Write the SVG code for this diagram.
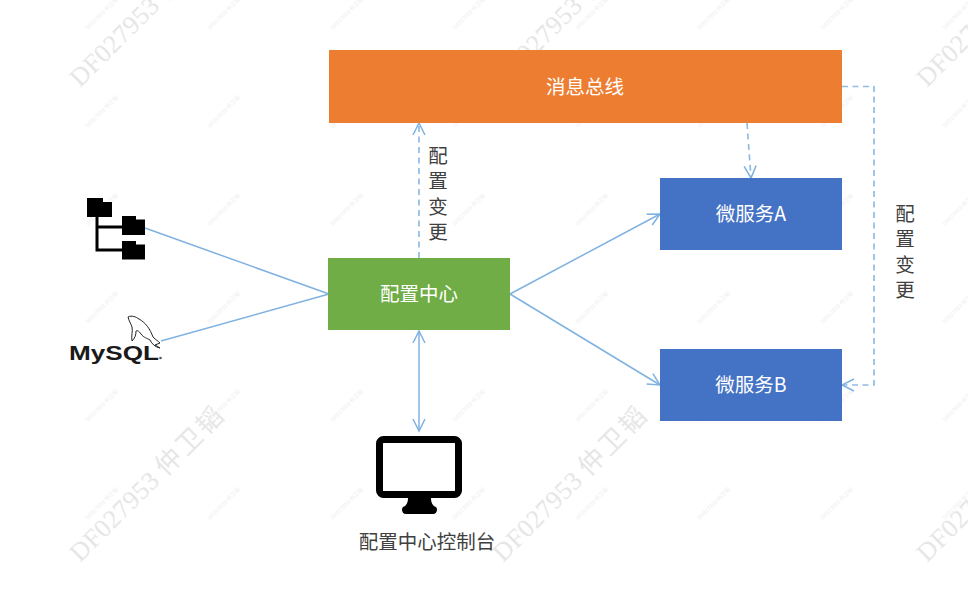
<svg xmlns="http://www.w3.org/2000/svg" width="968" height="594" viewBox="0 0 968 594">
<style>
text{font-family:"Noto Sans CJK SC","Liberation Sans",sans-serif}
.w{fill:#fff;font-size:19.500px;text-anchor:middle}
.k{fill:#404040;font-size:19.500px;text-anchor:middle}
.c{fill:none;stroke:#7fb2e0;stroke-width:1.500}
.d{stroke:#8fbce4;stroke-dasharray:6 4.500;stroke-width:1.700}
.wm{font-family:"Liberation Serif","Noto Sans CJK SC",serif;font-size:26px;letter-spacing:.4px;fill:#e6e6e6}
.sm{font-size:5.500px;fill:#eeeeee}
</style>
<defs>
<marker id="a" markerWidth="16" markerHeight="14" refX="13" refY="7" orient="auto-start-reverse" markerUnits="userSpaceOnUse"><path d="M1 1L13 7L1 13" fill="none" stroke="#7fb2e0" stroke-width="1.500"/></marker>
<text id="s" class="sm" transform="rotate(-45)">DF027953 仲卫韬</text>
<text id="b" class="wm" transform="rotate(-45)">DF027953 <tspan letter-spacing="3">仲卫韬</tspan></text>
</defs>
<rect width="968" height="594" fill="#fff"/>
<g id="watermarks">
<use href="#b" x="80" y="88"/><use href="#b" x="503" y="88"/><use href="#b" x="927" y="88"/>
<use href="#b" x="80" y="563"/><use href="#b" x="503" y="563"/><use href="#b" x="927" y="563"/>
<g id="r1"><use href="#s" x="88" y="30"/><use href="#s" x="210" y="30"/><use href="#s" x="333" y="30"/><use href="#s" x="455" y="30"/><use href="#s" x="578" y="30"/><use href="#s" x="700" y="30"/><use href="#s" x="823" y="30"/><use href="#s" x="945" y="30"/></g>
<use href="#r1" y="98"/><use href="#r1" y="196"/><use href="#r1" y="294"/><use href="#r1" y="392"/><use href="#r1" y="490"/>
</g>
<g id="connectors">
<path class="c d" d="M419 258V123" marker-end="url(#a)"/>
<path class="c d" d="M747 123L751 178" marker-end="url(#a)"/>
<path class="c d" d="M842 86.500H874V385H842" marker-end="url(#a)"/>
<path class="c" d="M145 228L329 294"/>
<path class="c" d="M161 341L329 294"/>
<path class="c" d="M510 294L660 214" marker-end="url(#a)"/>
<path class="c" d="M510 294L660 385" marker-end="url(#a)"/>
<path class="c" d="M419 331V431" marker-start="url(#a)" marker-end="url(#a)"/>
</g>
<g id="bus"><rect x="329" y="50" width="513" height="73" fill="#ed7d31"/><text class="w" x="585" y="93.500">消息总线</text></g>
<g id="config"><rect x="328" y="258" width="182" height="72" fill="#70ad47"/><text class="w" x="419" y="300.500">配置中心</text></g>
<g id="svcA"><rect x="660" y="178" width="182" height="72" fill="#4472c4"/><text class="w" x="751" y="221">微服务A</text></g>
<g id="svcB"><rect x="660" y="349" width="182" height="72" fill="#4472c4"/><text class="w" x="751" y="392">微服务B</text></g>
<g id="label1"><text class="k"><tspan x="438" y="163">配</tspan><tspan x="438" y="188">置</tspan><tspan x="438" y="214">变</tspan><tspan x="438" y="239">更</tspan></text></g>
<g id="label2"><text class="k"><tspan x="905" y="221">配</tspan><tspan x="905" y="246">置</tspan><tspan x="905" y="272">变</tspan><tspan x="905" y="297">更</tspan></text></g>
<g id="tree">
<path d="M97 212V250H124M97 227H124" fill="none" stroke="#000" stroke-width="3"/>
<path d="M87 198H103V202H112V217H87Z"/>
<path d="M122 216H136V219.500H145V235H122Z"/>
<path d="M122 241H136V244.500H145V259.500H122Z"/>
</g>
<g id="mysql">
<text x="69" y="360" font-size="20" font-weight="700" textLength="90" lengthAdjust="spacingAndGlyphs" style="font-family:'Liberation Sans',sans-serif" fill="#1a1a1a">MySQL</text>
<path d="M128 317C132 315 136 317 139 319C146 323 150 329 153 337C156 340 158 341 160 343L155 345L160 348C155 347 152 344 150 340C147 338 144 338 141 334C139 331 137 330 136 331C136 335 135 338 132 341C131 336 133 331 132 327C131 324 129 321 128 317Z" fill="#fff" stroke="#222" stroke-width="1"/>
<circle cx="160.500" cy="358" r="1.300" fill="#555"/>
</g>
<g id="console">
<rect x="379.500" y="439.500" width="79" height="55" rx="4" fill="#fff" stroke="#000" stroke-width="7"/>
<path d="M408 498H431C431 503 433 506 436 507C438 509 437 514 433 514H406C402 514 401 509 403 507C406 506 408 503 408 498Z"/>
<text class="k" x="427" y="549">配置中心控制台</text>
</g>
</svg>
